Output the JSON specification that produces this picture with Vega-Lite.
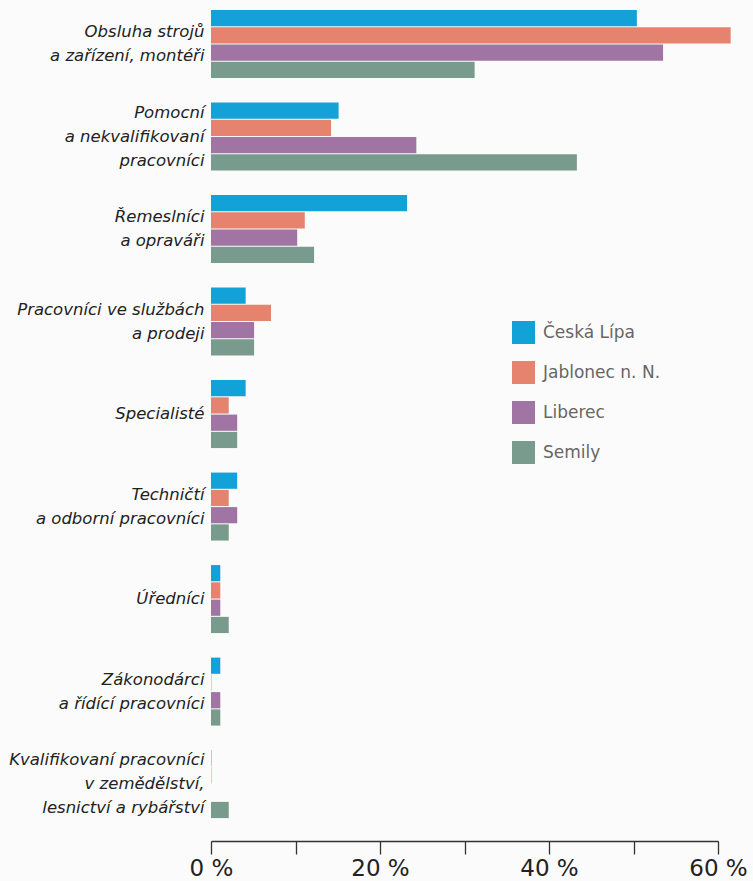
{
  "$schema": "https://vega.github.io/schema/vega-lite/v6.json",
  "width": 507,
  "height": 836,
  "autosize": "none",
  "padding": {"left": 211, "top": 5, "right": 35, "bottom": 40},
  "background": "#fbfbfb",
  "data": {
    "values": [
      {"kategorie": "Obsluha strojů|a zařízení, montéři", "okres": "Česká Lípa", "podil": 50.4},
      {"kategorie": "Obsluha strojů|a zařízení, montéři", "okres": "Jablonec n. N.", "podil": 61.5},
      {"kategorie": "Obsluha strojů|a zařízení, montéři", "okres": "Liberec", "podil": 53.5},
      {"kategorie": "Obsluha strojů|a zařízení, montéři", "okres": "Semily", "podil": 31.2},
      {"kategorie": "Pomocní|a nekvalifikovaní|pracovníci", "okres": "Česká Lípa", "podil": 15.1},
      {"kategorie": "Pomocní|a nekvalifikovaní|pracovníci", "okres": "Jablonec n. N.", "podil": 14.2},
      {"kategorie": "Pomocní|a nekvalifikovaní|pracovníci", "okres": "Liberec", "podil": 24.3},
      {"kategorie": "Pomocní|a nekvalifikovaní|pracovníci", "okres": "Semily", "podil": 43.3},
      {"kategorie": "Řemeslníci|a opraváři", "okres": "Česká Lípa", "podil": 23.2},
      {"kategorie": "Řemeslníci|a opraváři", "okres": "Jablonec n. N.", "podil": 11.1},
      {"kategorie": "Řemeslníci|a opraváři", "okres": "Liberec", "podil": 10.2},
      {"kategorie": "Řemeslníci|a opraváři", "okres": "Semily", "podil": 12.2},
      {"kategorie": "Pracovníci ve službách|a prodeji", "okres": "Česká Lípa", "podil": 4.1},
      {"kategorie": "Pracovníci ve službách|a prodeji", "okres": "Jablonec n. N.", "podil": 7.1},
      {"kategorie": "Pracovníci ve službách|a prodeji", "okres": "Liberec", "podil": 5.1},
      {"kategorie": "Pracovníci ve službách|a prodeji", "okres": "Semily", "podil": 5.1},
      {"kategorie": "Specialisté", "okres": "Česká Lípa", "podil": 4.1},
      {"kategorie": "Specialisté", "okres": "Jablonec n. N.", "podil": 2.1},
      {"kategorie": "Specialisté", "okres": "Liberec", "podil": 3.1},
      {"kategorie": "Specialisté", "okres": "Semily", "podil": 3.1},
      {"kategorie": "Techničtí|a odborní pracovníci", "okres": "Česká Lípa", "podil": 3.1},
      {"kategorie": "Techničtí|a odborní pracovníci", "okres": "Jablonec n. N.", "podil": 2.1},
      {"kategorie": "Techničtí|a odborní pracovníci", "okres": "Liberec", "podil": 3.1},
      {"kategorie": "Techničtí|a odborní pracovníci", "okres": "Semily", "podil": 2.1},
      {"kategorie": "Úředníci", "okres": "Česká Lípa", "podil": 1.1},
      {"kategorie": "Úředníci", "okres": "Jablonec n. N.", "podil": 1.1},
      {"kategorie": "Úředníci", "okres": "Liberec", "podil": 1.1},
      {"kategorie": "Úředníci", "okres": "Semily", "podil": 2.1},
      {"kategorie": "Zákonodárci|a řídící pracovníci", "okres": "Česká Lípa", "podil": 1.1},
      {"kategorie": "Zákonodárci|a řídící pracovníci", "okres": "Jablonec n. N.", "podil": 0.05},
      {"kategorie": "Zákonodárci|a řídící pracovníci", "okres": "Liberec", "podil": 1.1},
      {"kategorie": "Zákonodárci|a řídící pracovníci", "okres": "Semily", "podil": 1.1},
      {"kategorie": "Kvalifikovaní pracovníci|v zemědělství,|lesnictví a rybářství", "okres": "Česká Lípa", "podil": 0.05},
      {"kategorie": "Kvalifikovaní pracovníci|v zemědělství,|lesnictví a rybářství", "okres": "Jablonec n. N.", "podil": 0.05},
      {"kategorie": "Kvalifikovaní pracovníci|v zemědělství,|lesnictví a rybářství", "okres": "Liberec", "podil": 0.0},
      {"kategorie": "Kvalifikovaní pracovníci|v zemědělství,|lesnictví a rybářství", "okres": "Semily", "podil": 2.1}
    ]
  },
  "mark": {"type": "bar"},
  "encoding": {
    "y": {
      "field": "kategorie",
      "type": "nominal",
      "sort": [
        "Obsluha strojů|a zařízení, montéři",
        "Pomocní|a nekvalifikovaní|pracovníci",
        "Řemeslníci|a opraváři",
        "Pracovníci ve službách|a prodeji",
        "Specialisté",
        "Techničtí|a odborní pracovníci",
        "Úředníci",
        "Zákonodárci|a řídící pracovníci",
        "Kvalifikovaní pracovníci|v zemědělství,|lesnictví a rybářství"
      ],
      "scale": {"paddingInner": 0.265, "paddingOuter": 0.151, "align": 0.18},
      "axis": {
        "title": null,
        "ticks": false,
        "domain": false,
        "labelExpr": "split(datum.label, '|')",
        "labelFont": "DejaVu Sans",
        "labelFontStyle": "italic",
        "labelFontSize": 16.5,
        "labelLineHeight": 24,
        "labelColor": "#222222",
        "labelPadding": 7,
        "labelLimit": 0,
        "labelOffset": {
          "condition": [
            {"test": "length(split(datum.value, '|')) == 3", "value": -24},
            {"test": "length(split(datum.value, '|')) == 2", "value": -12}
          ],
          "value": 0
        }
      }
    },
    "yOffset": {
      "field": "okres",
      "type": "nominal",
      "sort": ["Česká Lípa", "Jablonec n. N.", "Liberec", "Semily"],
      "scale": {"paddingInner": 0.06}
    },
    "x": {
      "field": "podil",
      "type": "quantitative",
      "scale": {"domain": [0, 60], "nice": false},
      "axis": {
        "title": null,
        "grid": false,
        "values": [0, 10, 20, 30, 40, 50, 60],
        "labelExpr": "datum.value % 20 === 0 ? datum.value + ' %' : ''",
        "labelFont": "DejaVu Sans",
        "labelFontSize": 23,
        "labelColor": "#222222",
        "labelPadding": 3,
        "labelFlush": false,
        "tickSize": 13,
        "tickColor": "#333333",
        "tickWidth": 1.3,
        "domainColor": "#333333",
        "domainWidth": 1.3
      }
    },
    "color": {
      "field": "okres",
      "type": "nominal",
      "sort": ["Česká Lípa", "Jablonec n. N.", "Liberec", "Semily"],
      "scale": {
        "domain": ["Česká Lípa", "Jablonec n. N.", "Liberec", "Semily"],
        "range": ["#13A2D7", "#E6836F", "#A075A3", "#799B8D"]
      },
      "legend": {
        "title": null,
        "orient": "none",
        "legendX": 301,
        "legendY": 316,
        "symbolType": "square",
        "symbolSize": 529,
        "symbolStrokeWidth": 0,
        "labelFont": "DejaVu Sans",
        "labelFontSize": 17,
        "labelColor": "#666666",
        "labelOffset": 8,
        "rowPadding": 17
      }
    }
  },
  "config": {"view": {"stroke": null}}
}
